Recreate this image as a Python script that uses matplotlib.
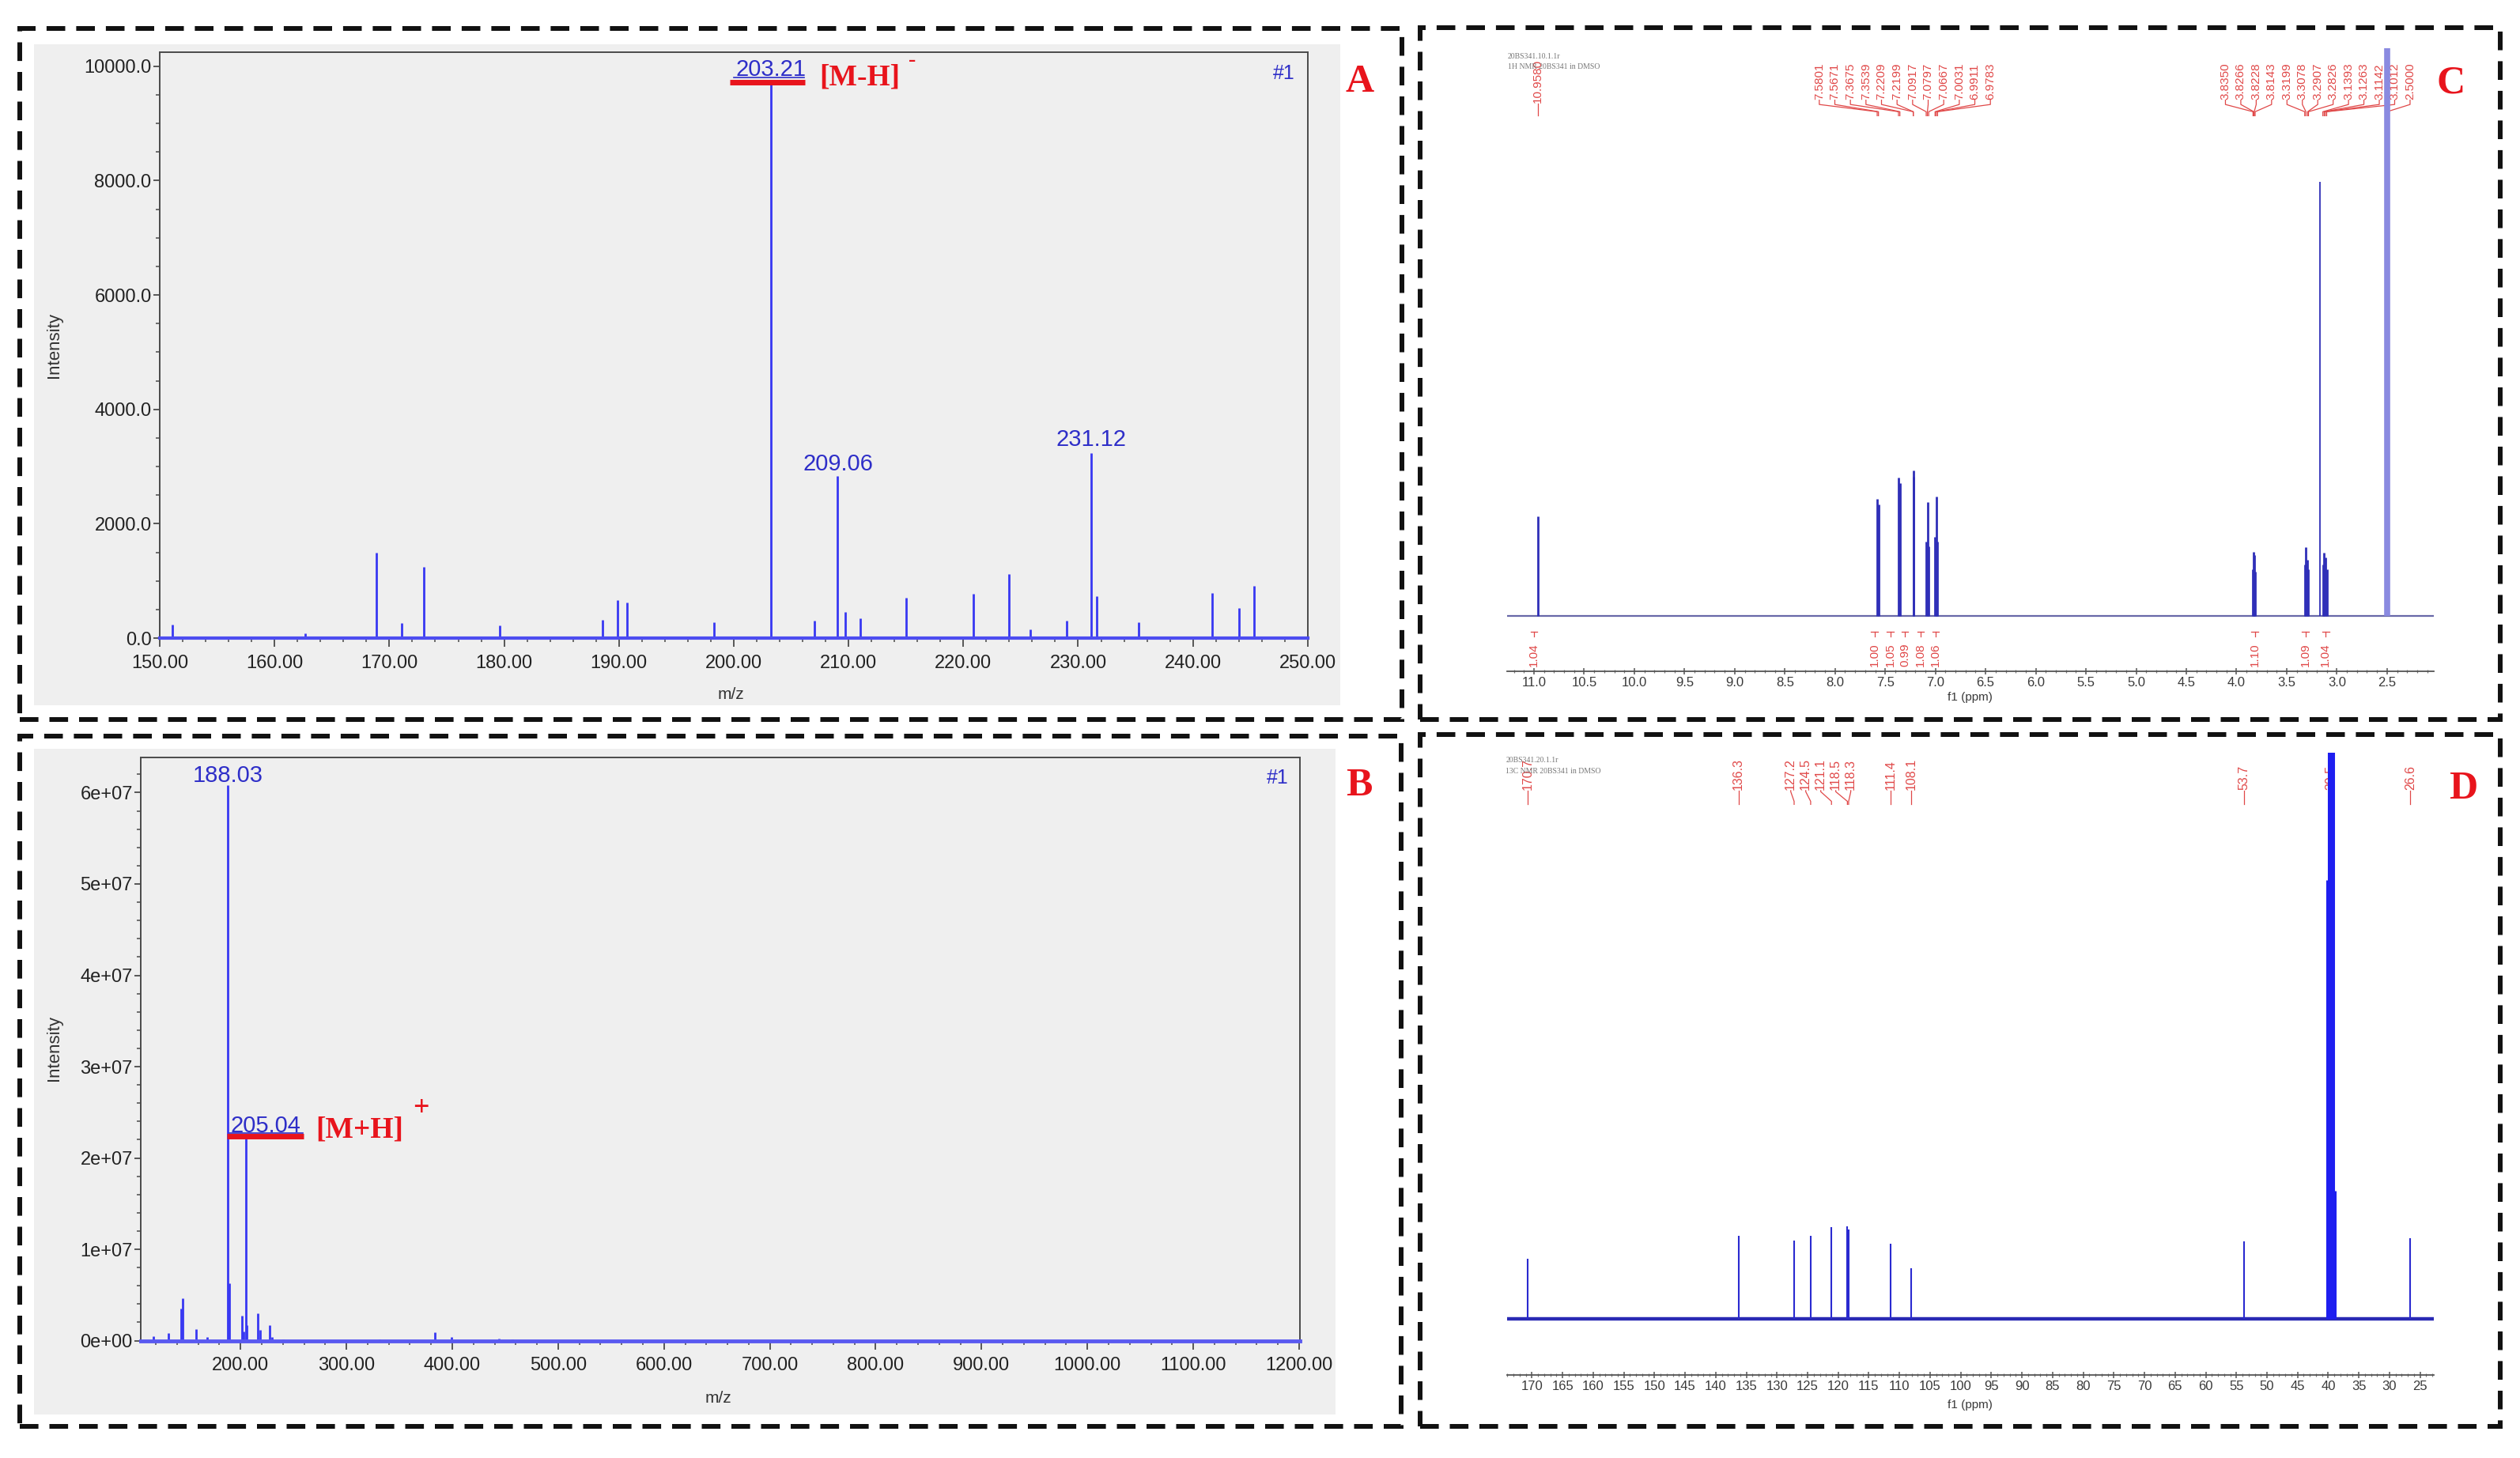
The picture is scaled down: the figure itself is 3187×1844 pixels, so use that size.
import matplotlib
matplotlib.use("Agg")
import matplotlib.pyplot as plt
import matplotlib.transforms as mtrans
from matplotlib.lines import Line2D
from matplotlib.patches import Rectangle
from matplotlib.ticker import MultipleLocator, FuncFormatter, FixedLocator

plt.rcParams['lines.scale_dashes'] = False
SANS = ['Liberation Sans', 'DejaVu Sans']
SERIF = ['Liberation Serif', 'DejaVu Serif']
plt.rcParams['font.family'] = SANS

# ---------------- data ----------------
# A: ESI-MS, negative mode
msA_mz = [151.1, 162.7, 168.9, 171.1, 173.0, 179.6, 188.6, 189.9, 190.7, 198.3,
          203.21, 207.0, 209.06, 209.7, 211.0, 215.0, 220.9, 224.0, 225.8, 229.0,
          231.12, 231.6, 235.3, 241.7, 244.0, 245.3]
msA_int = [240, 80, 1500, 270, 1240, 220, 320, 670, 630, 280,
           9690, 300, 2840, 460, 350, 710, 770, 1120, 150, 310,
           3240, 730, 280, 790, 530, 920]
msA_labelled = [203.21, 209.06, 231.12]
msA_xticks = [150, 160, 170, 180, 190, 200, 210, 220, 230, 240, 250]
msA_yticks = [0, 2000, 4000, 6000, 8000, 10000]

# B: ESI-MS, positive mode
msB_mz = [118.0, 131.8, 143.8, 145.5, 158.3, 168.8, 188.03, 189.0, 201.3, 202.5,
          205.04, 206.0, 216.3, 218.3, 227.5, 230.0, 240.5, 331.0, 383.3, 399.5,
          443.8, 457.0]
msB_int = [0.05e7, 0.08e7, 0.355e7, 0.46e7, 0.124e7, 0.04e7, 6.08e7, 0.63e7, 0.27e7, 0.10e7,
           2.26e7, 0.17e7, 0.30e7, 0.12e7, 0.17e7, 0.04e7, 0.015e7, 0.015e7, 0.095e7, 0.04e7,
           0.02e7, 0.015e7]
msB_labelled = [188.03, 205.04]
msB_xticks = [200, 300, 400, 500, 600, 700, 800, 900, 1000, 1100, 1200]
msB_yticks = [0, 1e7, 2e7, 3e7, 4e7, 5e7, 6e7]

# C: 1H NMR (ppm, relative height)
h1_ppm = [10.958, 7.5801, 7.5671, 7.3675, 7.3539, 7.2209, 7.2199, 7.0917, 7.0797, 7.0667,
          7.0031, 6.9911, 6.9783, 3.8350, 3.8266, 3.8228, 3.8143, 3.3199, 3.3078, 3.2907,
          3.2826, 3.17, 3.1393, 3.1263, 3.1142, 3.1012, 2.5000]
h1_height = [214, 252, 240, 297, 285, 312, 300, 160, 245, 150,
             170, 257, 160, 100, 137, 130, 95, 110, 147, 120,
             100, 934, 110, 135, 125, 100, 1300]
h1_single_label = ['10.9580']
h1_group1_labels = ['7.5801', '7.5671', '7.3675', '7.3539', '7.2209', '7.2199',
                    '7.0917', '7.0797', '7.0667', '7.0031', '6.9911', '6.9783']
h1_group2_labels = ['3.8350', '3.8266', '3.8228', '3.8143', '3.3199', '3.3078', '3.2907',
                    '3.2826', '3.1393', '3.1263', '3.1142', '3.1012', '2.5000']
h1_int_ppm = [11.0, 7.606, 7.449, 7.305, 7.147, 6.997, 3.816, 3.312, 3.112]
h1_int_val = ['1.04', '1.00', '1.05', '0.99', '1.08', '1.06', '1.10', '1.09', '1.04']
h1_xticks = [11.0, 10.5, 10.0, 9.5, 9.0, 8.5, 8.0, 7.5, 7.0, 6.5, 6.0, 5.5, 5.0, 4.5,
             4.0, 3.5, 3.0, 2.5]

# D: 13C NMR
c13_ppm = [170.7, 136.3, 127.2, 124.5, 121.1, 118.5, 118.3, 111.4, 108.1, 53.7,
           40.15, 39.94, 39.73, 39.52, 39.31, 39.10, 38.89, 26.6]
c13_height = [127, 177, 167, 177, 194, 197, 190, 160, 107, 164,
              932, 2500, 4000, 4500, 4000, 2500, 272, 172]
c13_single_labels = ['170.7', '136.3', '111.4', '108.1', '53.7', '39.5', '26.6']
c13_group_labels = ['127.2', '124.5', '121.1', '118.5', '118.3']
c13_xticks = list(range(170, 24, -5))

# ---------------- layout helpers (reference grid 1568 x 907) ----------------
W, H = 1568.0, 907.0
fig = plt.figure(figsize=(31.87, 18.44), dpi=100)


def fx(x):
    return x / W


def fy(y):
    return 1 - y / H


def rect(x0, y0, x1, y1):
    return [x0 / W, 1 - y1 / H, (x1 - x0) / W, (y1 - y0) / H]


def ftext(x, y, s, **kw):
    fig.text(fx(x), fy(y), s, **kw)


def fline(xs, ys, **kw):
    fig.add_artist(Line2D([fx(v) for v in xs], [fy(v) for v in ys],
                          transform=fig.transFigure, **kw))


GREY_BG = '#efefef'
BLUE_PEAK = '#3838f2'
BLUE_TXT = '#2e2ec8'
RED = '#e8141c'
NMR_RED = '#e04848'
NMR_BLUE = '#2f2fb8'

# grey panels behind the MS plots
for (x0, y0, x1, y1) in [(21.3, 27.4, 833.7, 438.9), (21.2, 465.9, 831.0, 880.0)]:
    fig.add_artist(Rectangle((fx(x0), fy(y1)), fx(x1) - fx(x0), fy(y0) - fy(y1),
                             transform=fig.transFigure, facecolor=GREY_BG,
                             edgecolor='none', zorder=0))


def style_ms_axes(ax):
    ax.set_facecolor(GREY_BG)
    for s in ax.spines.values():
        s.set_color('#4a4a4a')
        s.set_linewidth(1.4)
    ax.tick_params(axis='both', which='major', direction='out', length=6, width=1.3,
                   color='#4a4a4a', labelsize=17, labelcolor='#222222')
    ax.tick_params(axis='both', which='minor', direction='out', length=3.5, width=1.1,
                   color='#4a4a4a')
    ax.tick_params(axis='x', which='major', pad=7, length=8)
    ax.tick_params(axis='y', which='major', pad=1.5)


# ---------------- Panel A ----------------
axA = fig.add_axes(rect(99.4, 32.3, 813.7, 397.0))
style_ms_axes(axA)
axA.vlines(msA_mz, 0, msA_int, color=BLUE_PEAK, lw=2.0, zorder=3)
axA.axhline(0, color='#4d4df0', lw=3.0, zorder=4, clip_on=False)
axA.set_xlim(150, 250)
axA.set_ylim(0, 10250)
axA.xaxis.set_major_locator(FixedLocator(msA_xticks))
axA.xaxis.set_minor_locator(MultipleLocator(2))
axA.yaxis.set_major_locator(FixedLocator(msA_yticks))
axA.yaxis.set_minor_locator(MultipleLocator(500))
axA.xaxis.set_major_formatter(FuncFormatter(lambda v, p: f"{v:.2f}"))
axA.yaxis.set_major_formatter(FuncFormatter(lambda v, p: f"{v:.1f}"))
offA = {203.21: 7.6, 209.06: 4.8, 231.12: 6.5}
intA = dict(zip(msA_mz, msA_int))
for mz in msA_labelled:
    axA.annotate(f"{mz:.2f}", xy=(mz, intA[mz]), xytext=(0, offA[mz]),
                 textcoords='offset points', ha='center', va='baseline',
                 fontsize=21, color=BLUE_TXT, zorder=5)

ftext(33.5, 214.5, 'Intensity', rotation=90, ha='center', va='center',
      fontsize=16, color='#333333')
ftext(455, 432, 'm/z', ha='center', va='center', fontsize=15, color='#333333')
ftext(799, 45.5, '#1', ha='center', va='center', fontsize=18, color=BLUE_TXT)
# [M-H]- annotation
fline([456.5, 500.5], [48.3, 48.3], color=BLUE_TXT, lw=1.2)
fline([454, 500.7], [51.2, 51.2], color=RED, lw=5, solid_capstyle='butt')
ftext(510, 48, '[M-H]', ha='left', va='center', fontsize=27, color=RED,
      family=SERIF, weight='bold')
ftext(567.5, 37.5, '-', ha='center', va='center', fontsize=20, color=RED,
      family=SERIF, weight='bold')
ftext(846, 51, 'A', ha='center', va='center', fontsize=36, color=RED,
      family=SERIF, weight='bold')

# ---------------- Panel B ----------------
axB = fig.add_axes(rect(87.7, 471.2, 809.0, 834.0))
style_ms_axes(axB)
axB.vlines(msB_mz, 0, msB_int, color=BLUE_PEAK, lw=2.0, zorder=3)
axB.axhline(0, color='#5a5af0', lw=3.5, zorder=4, clip_on=False)
axB.set_xlim(105.9, 1201)
axB.set_ylim(0, 6.385e7)
axB.xaxis.set_major_locator(FixedLocator(msB_xticks))
axB.xaxis.set_minor_locator(MultipleLocator(20))
axB.yaxis.set_major_locator(FixedLocator(msB_yticks))
axB.yaxis.set_minor_locator(MultipleLocator(2e6))
axB.xaxis.set_major_formatter(FuncFormatter(lambda v, p: f"{v:.2f}"))
axB.yaxis.set_major_formatter(FuncFormatter(lambda v, p: f"{v:.0e}".replace('e+00', 'e+00')))
offB = {188.03: (0, 3.0), 205.04: (18, 1.5)}
intB = dict(zip(msB_mz, msB_int))
for mz in msB_labelled:
    axB.annotate(f"{mz:.2f}", xy=(mz, intB[mz]), xytext=offB[mz],
                 textcoords='offset points', ha='center', va='baseline',
                 fontsize=21, color=BLUE_TXT, zorder=5)

ftext(33.5, 652, 'Intensity', rotation=90, ha='center', va='center',
      fontsize=16, color='#333333')
ftext(446.7, 869.7, 'm/z', ha='center', va='center', fontsize=15, color='#333333')
ftext(795, 484, '#1', ha='center', va='center', fontsize=18, color=BLUE_TXT)
fline([142.5, 188.3], [704.8, 704.8], color=BLUE_TXT, lw=1.2)
fline([141.3, 188.8], [707.0, 707.0], color=RED, lw=5, solid_capstyle='butt')
ftext(196.6, 703, '[M+H]', ha='left', va='center', fontsize=27, color=RED,
      family=SERIF, weight='bold')
ftext(262, 690, '+', ha='center', va='center', fontsize=26, color=RED,
      family=SERIF, weight='bold')
ftext(845.5, 489, 'B', ha='center', va='center', fontsize=36, color=RED,
      family=SERIF, weight='bold')


# ---------------- NMR helpers ----------------
def style_nmr_axes(ax, fs):
    ax.set_facecolor('none')
    for k in ['left', 'right', 'top']:
        ax.spines[k].set_visible(False)
    ax.spines['bottom'].set_color('#555555')
    ax.spines['bottom'].set_linewidth(1.3)
    ax.set_yticks([])
    ax.tick_params(axis='x', which='major', direction='inout', length=6, width=1.1,
                   color='#555555', labelsize=fs, labelcolor='#3a3a3a', pad=2)
    ax.tick_params(axis='x', which='minor', direction='inout', length=3.5, width=0.9,
                   color='#777777')


def draw_label(ax, lx, px, s, y_bottom, y_k1, y_k2, y_end, fs):
    tr = mtrans.blended_transform_factory(ax.transData, fig.transFigure)
    ax.text(lx, fy(y_bottom), s, rotation=90, ha='center', va='bottom',
            transform=tr, fontsize=fs, color=NMR_RED, clip_on=False, zorder=2)
    ax.plot([lx, lx, px, px], [fy(y_bottom + 0.3), fy(y_k1), fy(y_k2), fy(y_end)],
            transform=tr, color=NMR_RED, lw=0.9, clip_on=False, zorder=2)


# ---------------- Panel C ----------------
axC = fig.add_axes(rect(937.6, 30.0, 1514.6, 417.7))
style_nmr_axes(axC, 12)
axC.set_xlim(11.27, 2.03)
axC.set_ylim(-120, 1222)
axC.axhline(0, color='#6868a8', lw=1.6, zorder=3)
lw_c = [5.5 if p == 2.5 else (1.3 if p == 3.17 else 2.0) for p in h1_ppm]
col_c = ['#8a8ae0' if p == 2.5 else NMR_BLUE for p in h1_ppm]
axC.vlines(h1_ppm, 0, h1_height, colors=col_c, linewidths=lw_c, zorder=4)
axC.xaxis.set_major_locator(FixedLocator(h1_xticks))
axC.xaxis.set_minor_locator(MultipleLocator(0.1))
axC.xaxis.set_major_formatter(FuncFormatter(lambda v, p: f"{v:.1f}"))
ftext(1226, 434, 'f1 (ppm)', ha='center', va='center', fontsize=11, color='#3a3a3a')

for s in h1_single_label:
    draw_label(axC, float(s), float(s), s, 64, 66, 70, 72, 11)
step_c = 0.155
for i, s in enumerate(h1_group1_labels):
    draw_label(axC, 8.157 - i * step_c, float(s), s, 62, 65, 69.5, 72, 11)
for i, s in enumerate(h1_group2_labels):
    draw_label(axC, 4.11 - i * 0.1533, float(s), s, 62, 65, 69.5, 72, 11)

trC = mtrans.blended_transform_factory(axC.transData, fig.transFigure)
for p, v in zip(h1_int_ppm, h1_int_val):
    axC.text(p, fy(414.5), v, rotation=90, ha='center', va='bottom', transform=trC,
             fontsize=11, color=NMR_RED, clip_on=False)
    axC.plot([p, p], [fy(392.8), fy(395.8)], transform=trC, color=NMR_RED, lw=0.9,
             clip_on=False)
    axC.plot([p - 0.035, p + 0.035], [fy(392.8), fy(392.8)], transform=trC,
             color=NMR_RED, lw=0.9, clip_on=False)

ftext(938, 35.2, '20BS341.10.1.1r', ha='left', va='center', fontsize=7,
      color='#777777', family=SERIF)
ftext(938, 41.4, '1H NMR 20BS341 in DMSO', ha='left', va='center', fontsize=7,
      color='#777777', family=SERIF)
ftext(1525, 52, 'C', ha='center', va='center', fontsize=36, color=RED,
      family=SERIF, weight='bold')

# ---------------- Panel D ----------------
axD = fig.add_axes(rect(937.6, 468.2, 1514.6, 855.6))
style_nmr_axes(axD, 12)
axD.set_xlim(174.1, 22.7)
axD.set_ylim(-120, 1202)
axD.axhline(0, color='#2a2ab4', lw=3.2, zorder=3)
lw_d = [2.2 if 38.8 < p < 40.2 else 1.5 for p in c13_ppm]
col_d = ['#1e1ef0' if 38.8 < p < 40.2 else '#2a2ad0' for p in c13_ppm]
axD.vlines(c13_ppm, 0, c13_height, colors=col_d, linewidths=lw_d, zorder=5)
axD.xaxis.set_major_locator(FixedLocator(c13_xticks))
axD.xaxis.set_minor_locator(MultipleLocator(1))
axD.xaxis.set_major_formatter(FuncFormatter(lambda v, p: f"{v:.0f}"))
ftext(1226, 874, 'f1 (ppm)', ha='center', va='center', fontsize=11, color='#3a3a3a')

for s in c13_single_labels:
    draw_label(axD, float(s), float(s), s, 491.5, 493, 498, 500.4, 11.5)
for i, s in enumerate(c13_group_labels):
    draw_label(axD, 127.75 - i * 2.45, float(s), s, 491.5, 492.5, 498.5, 500.4, 11.5)

ftext(937, 472.7, '20BS341.20.1.1r', ha='left', va='center', fontsize=7,
      color='#777777', family=SERIF)
ftext(937, 479.7, '13C NMR 20BS341 in DMSO', ha='left', va='center', fontsize=7,
      color='#777777', family=SERIF)
ftext(1532.5, 491, 'D', ha='center', va='center', fontsize=36, color=RED,
      family=SERIF, weight='bold')

# ---------------- dashed frames ----------------
for (x0, y0, x1, y1) in [(12.3, 17.9, 872.3, 447.5), (12.3, 458.0, 872.0, 887.3),
                         (883.7, 17.3, 1555.7, 447.5), (883.7, 457.0, 1555.7, 887.2)]:
    fig.add_artist(Rectangle((fx(x0), fy(y1)), fx(x1) - fx(x0), fy(y0) - fy(y1),
                             transform=fig.transFigure, facecolor='none',
                             edgecolor='#111111', lw=4.3, linestyle=(0, (17, 10)),
                             zorder=10))

fig.savefig('out.png', dpi=100, facecolor='white')
